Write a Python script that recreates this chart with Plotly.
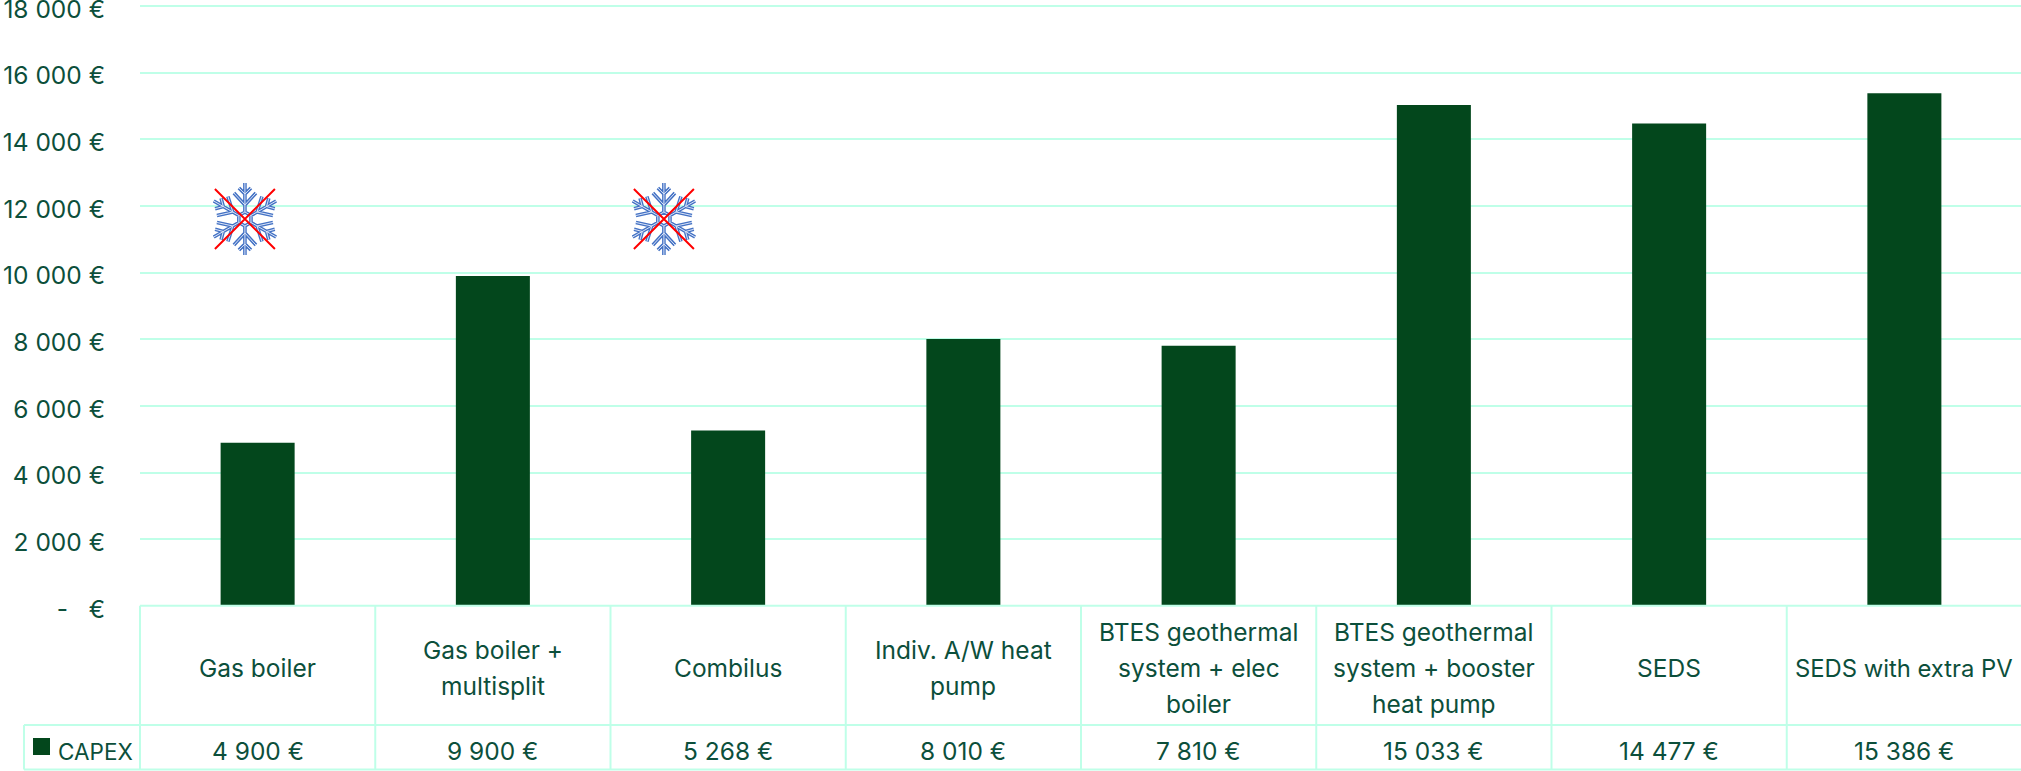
import math
import plotly.graph_objects as go

categories = ["Gas boiler", "Gas boiler +<br>multisplit", "Combilus", "Indiv. A/W heat<br>pump",
              "BTES geothermal<br>system + elec<br>boiler", "BTES geothermal<br>system + booster<br>heat pump",
              "SEDS", "SEDS with extra PV"]
capex = [4900, 9900, 5268, 8010, 7810, 15033, 14477, 15386]
capex_labels = ["4 900 €", "9 900 €", "5 268 €", "8 010 €", "7 810 €", "15 033 €", "14 477 €", "15 386 €"]
y_ticks = [0, 2000, 4000, 6000, 8000, 10000, 12000, 14000, 16000, 18000]
y_labels = ["-   €", "2 000 €", "4 000 €", "6 000 €", "8 000 €", "10 000 €", "12 000 €", "14 000 €", "16 000 €", "18 000 €"]
snow_x = [-0.054, 1.727]
snow_y = [11610, 11610]

W, H = 2021, 771
L, R, T, B = 140, 0, 6, 165
TXT = "#0c4f3b"
BAR = "#03471c"
GRID = "#bfffe8"
FONT = "Inter"
FS = 24.5
LINE_H = 36
plot_w, plot_h = W - L - R, H - T - B
step = 235.25
xmax = -0.5 + plot_w / step

def py(p):
    return (H - B - p) / plot_h

def px(p):
    return (p - L) / plot_w

fig = go.Figure(go.Bar(x=list(range(8)), y=capex, name="CAPEX", marker=dict(color=BAR, line=dict(width=0)), width=0.3146))

shapes = []
def hline(x0, x1, y):
    shapes.append(dict(type="line", xref="paper", yref="paper", x0=px(x0), x1=px(x1), y0=py(y), y1=py(y), line=dict(color=GRID, width=2)))
def vline(x, y0, y1):
    shapes.append(dict(type="line", xref="paper", yref="paper", x0=px(x), x1=px(x), y0=py(y0), y1=py(y1), line=dict(color=GRID, width=2)))

TOP, MID, BOT = 605.7, 725, 769.5
hline(L, W, T)
hline(L, W, TOP); hline(24, W, MID); hline(24, W, BOT)
vline(24, MID, BOT)
for i in range(8):
    vline(L + i * step, TOP, BOT)
shapes.append(dict(type="rect", xref="paper", yref="paper", x0=px(33), x1=px(50), y0=py(738), y1=py(755), fillcolor=BAR, line=dict(width=0)))

def arm_path(scale=1.0):
    d = []
    for k in range(6):
        a = math.radians(90 + 60 * k)
        ux, uy = math.cos(a), math.sin(a)
        vx, vy = -uy, ux
        def pt(r, s):
            return f"{(ux*r+vx*s)*scale:.2f},{(uy*r+vy*s)*scale:.2f}"
        d.append(f"M{pt(7,0)}L{pt(36,0)}")
        d.append(f"M{pt(14,0)}L{pt(26,11)}M{pt(14,0)}L{pt(26,-11)}")
        d.append(f"M{pt(25,0)}L{pt(31,6)}M{pt(25,0)}L{pt(31,-6)}")
        b = math.radians(90 + 60 * (k + 1))
        d.append(f"M{pt(7,0)}L{7*math.cos(b)*scale:.2f},{7*math.sin(b)*scale:.2f}")
    return "".join(d)

snow = arm_path()
for sx, sy in zip(snow_x, snow_y):
    base = dict(type="path", xref="x", yref="y", xsizemode="pixel", ysizemode="pixel", xanchor=sx, yanchor=sy, path=snow)
    shapes.append({**base, "line": dict(color="#4472c4", width=3.6)})
    shapes.append({**base, "line": dict(color="#dbe5f8", width=1.0)})
    shapes.append(dict(type="path", xref="x", yref="y", xsizemode="pixel", ysizemode="pixel", xanchor=sx, yanchor=sy,
                       path="M-30,30L30,-30M-30,-30L30,30", line=dict(color="#ff0000", width=2)))

ann = []
def text(x, y, s, anchor="center", size=FS):
    ann.append(dict(xref="paper", yref="paper", x=px(x), y=py(y), text=s, showarrow=False, xanchor=anchor, yanchor="middle",
                    font=dict(family=FONT, size=size, color=TXT)))

label_mid = (TOP + MID) / 2 + 3
for i, cat in enumerate(categories):
    cx = L + (i + 0.5) * step
    lines = cat.split("<br>")
    for j, ln in enumerate(lines):
        text(cx, label_mid + (j - (len(lines) - 1) / 2) * LINE_H, ln, size=23.8 if len(ln) > 16 else FS)
    text(cx, 751, capex_labels[i])
text(56, 751, "CAPEX", "left", 22.5)

fig.update_layout(
    width=W, height=H, margin=dict(l=L, r=R, t=T, b=B, pad=0, autoexpand=False),
    paper_bgcolor="white", plot_bgcolor="white", showlegend=False,
    shapes=shapes, annotations=ann, font=dict(family=FONT, size=FS, color=TXT),
    xaxis=dict(range=[-0.5, xmax], showgrid=False, zeroline=False, showticklabels=False, ticks="", fixedrange=True),
    yaxis=dict(range=[0, 18000], tickvals=y_ticks, ticktext=y_labels, gridcolor=GRID, gridwidth=2, zeroline=False,
               ticks="", ticklabelstandoff=34, ticklabelshift=3, ticklabeloverflow="allow",
               tickfont=dict(family=FONT, size=FS, color=TXT)),
)
fig.write_html("out.html", config=dict(displayModeBar=False),
               post_script="document.body.style.margin='0';document.body.style.overflow='hidden';")
